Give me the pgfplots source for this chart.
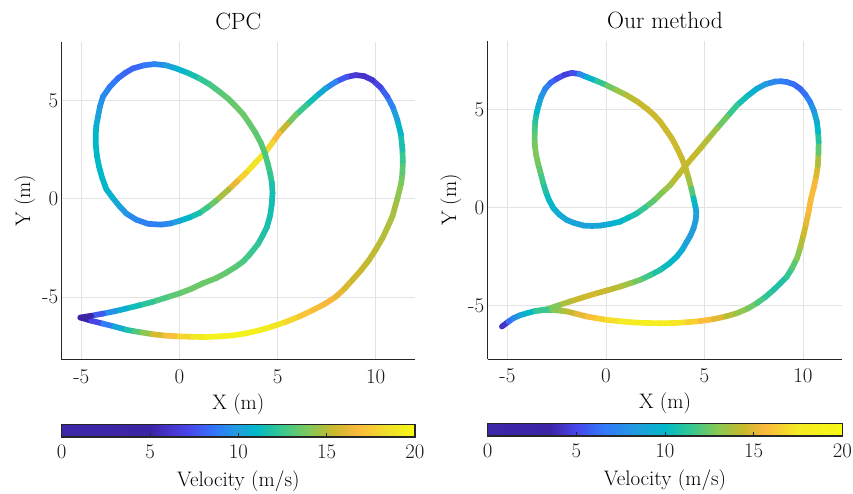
\documentclass[border=0pt]{standalone}
\usepackage{pgfplots}
\pgfplotsset{compat=1.18}
\usepackage{pgfplotstable}

\pgfplotstableread{
x y v
-5.05 -6.04 3
-4.5 -6.2 6
-3.9 -6.35 8
-3.3 -6.5 9.8
-2.71 -6.66 11
-2.3 -6.74 12.5
-1.9 -6.8 13.5
-1.36 -6.89 15
-0.7 -6.96 16.5
0 -7.0 17.5
0.7 -7.02 18.5
1.36 -7.03 19.5
2.0 -7.0 19.5
2.71 -6.95 19.5
3.4 -6.84 19.4
4.07 -6.69 19.3
4.75 -6.49 19
5.42 -6.26 18.5
6.1 -5.99 17.5
6.78 -5.67 17
7.4 -5.35 16.7
7.97 -4.98 16.5
8.4 -4.58 16
8.81 -4.13 15.5
9.25 -3.63 15.3
9.66 -3.11 15.2
10.0 -2.58 15.1
10.34 -2.0 15
10.6 -1.45 14.9
10.85 -0.89 14.8
11.1 0.0 14.5
11.3 0.8 14
11.36 1.32 13.5
11.38 1.9 12.8
11.36 2.5 12
11.28 3.3 11.3
11.1 4.02 10.5
10.88 4.65 9.5
10.59 5.2 8.5
10.25 5.67 7.5
9.83 6.05 6.5
9.4 6.25 6
8.98 6.3 6
8.5 6.2 7
7.97 5.96 8.5
7.45 5.62 9.8
6.95 5.2 11
6.45 4.75 12
5.93 4.27 13
5.5 3.8 14.5
5.08 3.34 16
4.75 2.88 17.5
4.41 2.42 18.5
3.9 1.87 19
3.39 1.32 18.5
2.95 0.9 17
2.5 0.47 15.5
1.86 -0.1 14
1.45 -0.42 13
1.02 -0.72 12
0.5 -0.95 11.3
0 -1.12 10.5
-0.45 -1.25 9.5
-0.93 -1.31 9
-1.6 -1.27 9
-2.2 -1.06 9
-2.7 -0.75 9.5
-3.05 -0.38 10
-3.4 0.05 10.5
-3.73 0.5 10.8
-3.95 1.1 11
-4.1 1.65 11
-4.2 2.16 11
-4.26 2.7 11
-4.27 3.18 11
-4.24 3.7 10.8
-4.15 4.19 10.3
-4.05 4.7 9.8
-3.9 5.2 9.5
-3.55 5.7 9
-3.14 6.13 8.5
-2.75 6.42 8.2
-2.37 6.64 8
-1.8 6.8 8.5
-1.27 6.86 9
-0.7 6.8 9.5
-0.17 6.64 10.5
0.45 6.4 11
1.02 6.13 12
1.55 5.82 12.5
2.03 5.46 13
2.48 5.1 13.3
2.88 4.7 13.5
3.25 4.3 13.5
3.56 3.85 13.5
3.88 3.35 13.3
4.15 2.84 13.2
4.35 2.33 13
4.49 1.82 12.8
4.62 1.3 12.4
4.71 0.81 12
4.74 0.3 11.5
4.7 -0.3 11.5
4.62 -0.85 11.5
4.45 -1.45 11.7
4.25 -1.85 11.8
4.0 -2.3 12
3.56 -2.85 12.5
3.25 -3.18 12.8
2.88 -3.45 13
2.35 -3.78 13.3
1.86 -4.04 13.5
1.19 -4.3 13.5
0.6 -4.58 13.5
0 -4.81 13.5
-0.7 -5.03 13
-1.36 -5.24 12.5
-2.05 -5.42 11.8
-2.71 -5.58 11
-3.3 -5.72 10
-3.9 -5.84 9
-4.5 -5.95 6.5
-5.05 -6.04 3
}\cpcdata

\pgfplotstableread{
x y v
-5.28 -6.08 3
-4.95 -5.83 5.5
-4.69 -5.65 7
-4.35 -5.5 8.5
-4.01 -5.4 9.5
-3.6 -5.29 10.5
-3.2 -5.24 11.3
-2.66 -5.24 12.5
-2.3 -5.27 13.2
-1.98 -5.31 13.8
-1.5 -5.43 14.7
-0.96 -5.57 15.5
-0.45 -5.66 16.2
0.05 -5.74 16.7
0.7 -5.81 17.3
1.4 -5.87 17.8
2.1 -5.9 18
2.76 -5.91 18
3.45 -5.9 17.5
4.11 -5.86 17
4.8 -5.8 16
5.47 -5.7 15.5
6.1 -5.56 14.5
6.65 -5.4 13.5
7.2 -5.16 12.8
7.66 -4.89 12.3
8.1 -4.57 11.5
8.51 -4.21 11
8.85 -3.88 10.8
9.19 -3.53 11
9.45 -3.1 11.8
9.7 -2.6 12.5
9.88 -2.0 13.5
10.03 -1.41 14.3
10.17 -0.8 15
10.29 -0.22 15.5
10.4 0.4 15.8
10.55 1.0 15.8
10.68 1.6 15.3
10.76 2.15 14.5
10.79 2.75 13
10.8 3.34 11.5
10.77 3.85 10.5
10.71 4.36 9.5
10.57 4.9 8.5
10.37 5.37 7.5
10.12 5.76 6.5
9.86 6.05 6
9.55 6.27 6
9.19 6.39 6.5
8.9 6.43 6.8
8.6 6.42 7
8.1 6.28 8
7.66 6.05 9
7.15 5.65 10
6.65 5.2 11
6.15 4.62 12
5.63 4.02 13
5.2 3.5 13.8
4.79 3.0 14.2
4.4 2.55 14.4
4.06 2.15 14.4
3.7 1.68 14.3
3.27 1.14 13.8
2.85 0.75 13
2.42 0.33 12.5
2.0 0.0 11.8
1.57 -0.31 11
1.15 -0.52 10.5
0.73 -0.73 10
0.2 -0.85 9.5
-0.29 -0.93 9
-0.7 -0.95 8.8
-1.13 -0.93 8.7
-1.6 -0.8 8.7
-1.98 -0.65 8.8
-2.35 -0.38 9
-2.66 -0.05 9.5
-2.9 0.4 10
-3.05 0.8 10.5
-3.2 1.3 11.3
-3.33 1.81 12
-3.45 2.25 12.5
-3.54 2.66 12.8
-3.6 3.1 12.8
-3.62 3.51 12.5
-3.61 3.95 12
-3.59 4.36 11.5
-3.52 4.8 10.5
-3.42 5.2 9.5
-3.28 5.65 8.5
-3.08 6.05 7.5
-2.8 6.36 6.5
-2.49 6.56 5.5
-2.1 6.76 4.8
-1.73 6.86 4.5
-1.35 6.8 6
-0.96 6.64 9
-0.45 6.44 10.5
0.05 6.22 12
0.55 5.97 13
1.07 5.71 13.8
1.6 5.39 14.3
2.08 5.03 14.5
2.45 4.7 14.5
2.76 4.36 14.5
3.05 3.95 14.5
3.35 3.51 14.5
3.62 3.0 14.5
3.86 2.49 14.5
4.05 1.98 14.4
4.2 1.47 14
4.34 0.95 13
4.45 0.46 11
4.55 0.0 9.5
4.59 -0.22 9
4.56 -0.65 8.5
4.45 -1.07 8.3
4.3 -1.42 8.3
4.11 -1.75 8.5
3.88 -2.15 9
3.6 -2.51 9.5
3.2 -2.88 10
2.76 -3.19 10.5
2.25 -3.46 11.3
1.74 -3.7 12
1.25 -3.87 13
0.73 -4.04 13.8
0.15 -4.21 14.3
-0.46 -4.38 14.6
-1.15 -4.59 14.6
-1.81 -4.8 14.2
-2.4 -5.0 13.5
-3.0 -5.2 12
-3.5 -5.28 11
}\ourdata

\pgfplotsset{
  trajstyle/.style={
    scale only axis,
    anchor=south west,
    axis x line*=bottom, axis y line*=left,
    axis line style={draw=black!85, line width=1pt},
    grid=major, major grid style={draw=black!11, line width=0.8pt},
    major tick length=0pt,
    xtick={-5,0,5,10}, xticklabels={-5,0,5,10},
    ytick={-5,0,5}, yticklabels={-5,0,5},
    tick label style={font=\fontsize{21}{25}\selectfont, text=black!90},
    xticklabel style={yshift=-6pt},
    label style={font=\fontsize{21}{25}\selectfont},
    xlabel style={yshift=-3pt},
    title style={font=\fontsize{23.5}{28}\selectfont, yshift=2pt},
    xlabel={X (m)}, ylabel={Y (m)},
    point meta min=0, point meta max=20,
    colorbar horizontal,
  },
  cbstyle/.style={
    at={(parent axis.south west)}, anchor=north west,
    scale only axis, height=12.5pt,
    xtick={0,5,10,15,20},
    xtick pos=bottom,
    xtick align=inside,
    major tick length=4pt,
    tick style={draw=black!85, line width=0.8pt},
    axis line style={draw=black!85, line width=1.2pt},
    xticklabel style={font=\fontsize{21}{25}\selectfont, yshift=-5pt},
    xlabel={Velocity (m/s)},
    xlabel style={font=\fontsize{21}{25}\selectfont, yshift=-5pt},
  },
}

\begin{document}
\begin{tikzpicture}
\useasboundingbox (0,0) rectangle (853pt,494pt);

\begin{axis}[trajstyle,
  at={(61.7pt,134pt)}, width=353.3pt, height=318.3pt,
  xmin=-6, xmax=12, ymin=-8.2, ymax=8,
  title={CPC},
  colormap={cpcmap}{
    rgb255(0)=(62,38,168);
    rgb255(5)=(60,36,165);
    rgb255(6)=(70,50,200);
    rgb255(7.2)=(72,70,235);
    rgb255(8.7)=(50,120,250);
    rgb255(10)=(30,160,220);
    rgb255(11)=(0,185,200);
    rgb255(12.5)=(60,200,140);
    rgb255(14)=(130,200,90);
    rgb255(15.3)=(200,185,45);
    rgb255(16.7)=(250,185,60);
    rgb255(18.5)=(240,225,40);
    rgb255(20)=(248,250,20)
  },
  colorbar style={cbstyle, yshift=-56pt, width=353.3pt},
]
\addplot[mesh, point meta=explicit, line width=5.7pt, line cap=round]
  table[x=x, y=y, meta=v] {\cpcdata};
\end{axis}

\begin{axis}[trajstyle,
  at={(487.7pt,134.7pt)}, width=354.6pt, height=318.6pt,
  xmin=-6, xmax=12, ymin=-7.75, ymax=8.5,
  title={Our method},
  colormap={ourmap}{
    rgb255(0)=(62,38,168);
    rgb255(3.5)=(60,36,165);
    rgb255(5)=(72,70,235);
    rgb255(6.5)=(50,120,250);
    rgb255(8.6)=(30,160,220);
    rgb255(10)=(0,185,200);
    rgb255(11.6)=(60,200,140);
    rgb255(13)=(140,200,80);
    rgb255(14.4)=(200,185,45);
    rgb255(15.6)=(250,185,60);
    rgb255(17.5)=(245,235,35);
    rgb255(20)=(248,250,20)
  },
  colorbar style={cbstyle, yshift=-55.7pt, width=354.6pt},
]
\addplot[mesh, point meta=explicit, line width=5.7pt, line cap=round]
  table[x=x, y=y, meta=v] {\ourdata};
\end{axis}
\end{tikzpicture}
\end{document}
